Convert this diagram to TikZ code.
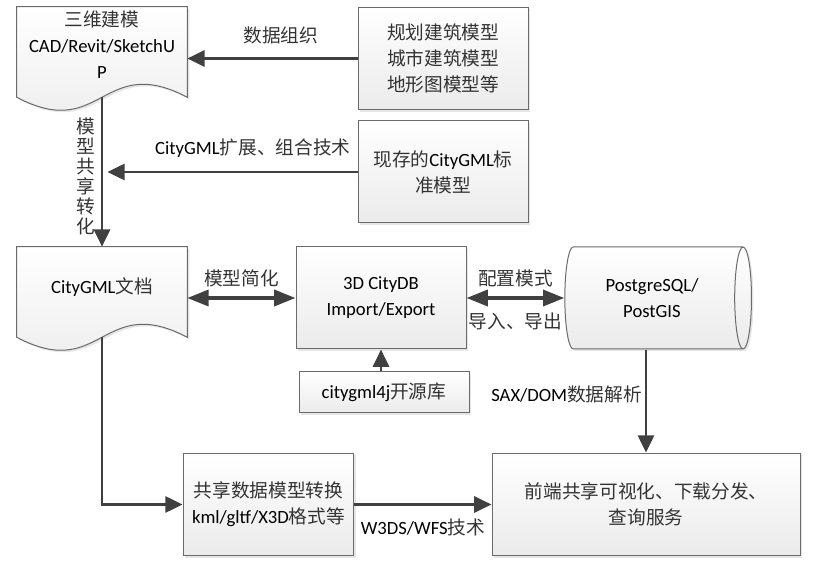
\documentclass[tikz,border=0pt]{standalone}
\usepackage{fontspec}
\setmainfont{Carlito}
\newfontfamily\cjk{Noto Sans CJK SC}
\usetikzlibrary{arrows.meta,positioning,calc,shapes.geometric,shadows,backgrounds}
\definecolor{trait}{rgb}{0.25,0.25,0.25}
\definecolor{bord}{rgb}{0.42,0.42,0.42}
\newcommand{\zh}[1]{{\cjk\color{black!80}#1}}

\tikzset{
  boite/.style={rectangle,draw=bord,line width=0.75pt,top color=white,bottom color=black!8,
    drop shadow={shadow xshift=1.5pt,shadow yshift=-1.5pt,opacity=0.2},
    align=center,font=\fontsize{14pt}{19.5pt}\selectfont,inner sep=2pt},
  papier/.style={rectangle,align=center,font=\fontsize{14pt}{19.5pt}\selectfont,inner sep=2pt},
  fond/.style={draw=bord,line width=0.75pt,top color=white,bottom color=black!8,
    drop shadow={shadow xshift=1.5pt,shadow yshift=-1.5pt,opacity=0.2}},
  fleche/.style={draw=trait,line width=2.2pt,-{Triangle[length=13pt,width=12pt]}},
  double/.style={draw=trait,line width=2.6pt,{Triangle[length=16pt,width=12pt]}-{Triangle[length=16pt,width=12pt]}},
  lien/.style={draw=trait,line width=2pt},
  etiq/.style={font=\fontsize{14pt}{19.5pt}\selectfont,inner sep=2pt}
}

\begin{document}
\begin{tikzpicture}[x=0.75pt,y=-0.75pt]
\useasboundingbox (0,0) rectangle (815,570);
% les noeuds
\node (modele) at (102,45) [papier,minimum width=127.5pt,minimum height=57pt] {\zh{三维建模}\\CAD/Revit/SketchU\\P};
\node (plan) at (443,58.5) [boite,minimum width=127.5pt,minimum height=77pt] {\zh{规划建筑模型}\\\zh{城市建筑模型}\\\zh{地形图模型等}};
\node (exist) at (443,172) [boite,minimum width=127.5pt,minimum height=76.5pt] {\zh{现存的}CityGML\zh{标}\\\zh{准模型}};
\node (gmldoc) at (102,287) [papier,minimum width=127.5pt,minimum height=60pt] {CityGML\zh{文档}};
\node (citydb) at (381,298) [boite,minimum width=127.5pt,minimum height=76.5pt] {3D CityDB\\Import/Export};
\node (pgsql) at (652,298) [cylinder,draw=bord,line width=0.75pt,top color=white,bottom color=black!8,
  drop shadow={shadow xshift=1.5pt,shadow yshift=-1.5pt,opacity=0.2},aspect=0.35,
  minimum height=140pt,minimum width=76.5pt,align=center,font=\fontsize{14pt}{19.5pt}\selectfont] {PostgreSQL/\\PostGIS};
\node (lib) at (384,392.5) [boite,minimum width=127.5pt,minimum height=30.75pt] {citygml4j\zh{开源库}};
\node (share) at (268.5,504.5) [boite,minimum width=128pt,minimum height=77pt] {\zh{共享数据模型转换}\\kml/gltf/X3D\zh{格式等}};
\node (front) at (646,504.5) [boite,minimum width=231pt,minimum height=77pt] {\zh{前端共享可视化、下载分发、}\\\zh{查询服务}};

% le bas ondule des documents
\coordinate (modelebas) at ($(modele.south)+(0,14)$);
\coordinate (gmlbas) at ($(gmldoc.south)+(0,10)$);
\begin{pgfonlayer}{background}
\path[fond] (modele.north west) -- (modele.north east) -- ($(modele.south east)+(0,14)$)
  .. controls ($(modelebas)+(0,-45)$) and ($(modelebas)+(0,45)$) .. ($(modele.south west)+(0,14)$) -- cycle;
\path[fond] (gmldoc.north west) -- (gmldoc.north east) -- ($(gmldoc.south east)+(0,10)$)
  .. controls ($(gmlbas)+(0,-45)$) and ($(gmlbas)+(0,45)$) .. ($(gmldoc.south west)+(0,10)$) -- cycle;
\end{pgfonlayer}

% les fleches
\draw[fleche] (plan.west) -- (plan.west -| modele.east) node[etiq,pos=0.45,above=8pt] {\zh{数据组织}};
\draw[fleche,shorten >=4pt] (exist.west) -- (exist.west -| modelebas) node[etiq,pos=0.41,above=8pt] {CityGML\zh{扩展、组合技术}};
\draw[fleche] (modelebas) -- (gmldoc.north) node[pos=0.53,left=2pt,align=center,inner sep=2pt,font=\fontsize{14pt}{15pt}\selectfont\cjk,text=black!80] {模\\型\\共\\享\\转\\化};
\draw[double] (citydb.west -| gmldoc.east) -- (citydb.west) node[etiq,midway,above=5pt] {\zh{模型简化}};
\draw[double] (citydb.east) -- (pgsql.west) node[etiq,midway,above=5pt] {\zh{配置模式}} node[etiq,midway,below=8pt] {\zh{导入、导出}};
\draw[fleche] (lib.north -| citydb.south) -- (citydb.south);
\draw[fleche] (front.north |- pgsql.south) -- (front.north) node[etiq,pos=0.44,left] {SAX/DOM\zh{数据解析}};
\draw[fleche] (gmlbas) |- (share.west);
\draw[fleche] (share.east) -- (front.west) node[etiq,midway,below=8pt] {W3DS/WFS\zh{技术}};
\end{tikzpicture}
\end{document}
